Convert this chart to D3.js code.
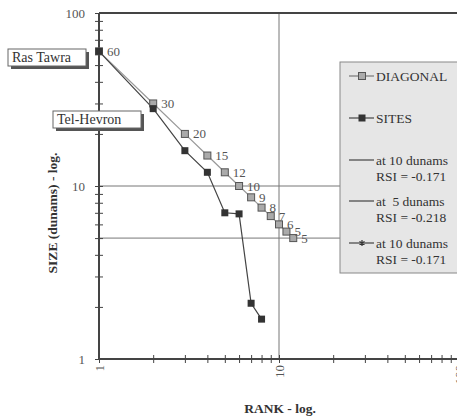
<!DOCTYPE html>
<html lang="en">

<head>
    <meta charset="UTF-8">
    <title>Rank-size</title>
    <script src="https://cdn.jsdelivr.net/npm/d3@7"></script>
</head>

<body style="margin:0">
    <style>
        svg text {
            font-family: "Liberation Serif", "DejaVu Serif", serif;
            fill: #333;
        }

        .grid-line {
            stroke: #777;
            stroke-width: 1;
        }

        .axis path {
            display: none;
        }

        .axis line {
            stroke: #444;
        }
    </style>

    <script>
        var ranks = [1, 2, 3, 4, 5, 6, 7, 8, 9, 10, 11, 12];
        var diagonal = [60, 30, 20, 15, 12, 10, 8.6, 7.5, 6.7, 6, 5.45, 5];
        var diagonalLabels = ["60", "30", "20", "15", "12", "10", "9", "8", "7", "6", "5", "5"];
        var siteRanks = [1, 2, 3, 4, 5, 6, 7, 8];
        var sites = [60, 28, 16, 12, 7, 6.9, 2.1, 1.7];
        var xTicks = [1, 2, 3, 4, 5, 6, 7, 8, 9, 10, 20, 30, 40, 50, 60, 70, 80, 90, 100];
        var yTicks = [1, 2, 3, 4, 5, 6, 7, 8, 9, 10, 20, 30, 40, 50, 60, 70, 80, 90, 100];
        var majorTicks = [1, 10, 100];
        var gridX = [10];
        var gridY = [10, 5];
        var legendItems = [
            { kind: "diag", lines: ["DIAGONAL"] },
            { kind: "sites", lines: ["SITES"] },
            { kind: "plain", lines: ["at 10 dunams", "RSI = -0.171"] },
            { kind: "plain", lines: ["at  5 dunams", "RSI = -0.218"] },
            { kind: "star", lines: ["at 10 dunams", "RSI = -0.171"] }
        ];
        var notes = [
            { text: "Ras Tawra", x: 8, y: 49, w: 78, h: 17 },
            { text: "Tel-Hevron", x: 53, y: 111, w: 88, h: 17 }
        ];

        var width = 457,
            height = 420,
            plotLeft = 99,
            plotRight = 459,
            plotTop = 13,
            plotBottom = 359,
            svg;

        svg = d3.select("body").append("svg")
            .attr("width", width)
            .attr("height", height);

        var x = d3.scaleLog().domain([1, 100]).range([plotLeft, plotRight]);
        var y = d3.scaleLog().domain([1, 100]).range([plotBottom, plotTop]);

        // grid lines
        svg.selectAll("line.gx").data(gridX).enter().append("line")
            .attr("class", "grid-line")
            .attr("x1", d => x(d)).attr("x2", d => x(d))
            .attr("y1", plotTop).attr("y2", plotBottom);
        svg.selectAll("line.gy").data(gridY).enter().append("line")
            .attr("class", "grid-line")
            .attr("x1", plotLeft).attr("x2", plotRight)
            .attr("y1", d => y(d)).attr("y2", d => y(d));

        // frame: left, bottom, top
        svg.append("line").attr("x1", plotLeft).attr("x2", plotLeft).attr("y1", plotTop).attr("y2", plotBottom)
            .attr("stroke", "#444").attr("stroke-width", 2);
        svg.append("line").attr("x1", plotLeft).attr("x2", plotRight).attr("y1", plotBottom).attr("y2", plotBottom)
            .attr("stroke", "#444").attr("stroke-width", 2);
        svg.append("line").attr("x1", plotLeft).attr("x2", plotRight).attr("y1", plotTop).attr("y2", plotTop)
            .attr("stroke", "#444").attr("stroke-width", 2);

        var fmt = d => majorTicks.indexOf(d) >= 0 ? String(d) : "";

        var xAxis = d3.axisBottom(x).tickValues(xTicks).tickFormat(fmt).tickSize(4).tickPadding(5);
        var gx = svg.append("g").attr("class", "axis")
            .attr("transform", "translate(0," + plotBottom + ")")
            .call(xAxis);
        gx.selectAll(".tick line").attr("y1", -4);
        gx.selectAll(".tick text")
            .attr("transform", "rotate(-90)")
            .attr("x", -6).attr("y", 0).attr("dy", "0.35em")
            .style("text-anchor", "end")
            .style("font-size", "13px")
            .style("font-family", "Liberation Serif")
            .style("fill", "#555");

        var yAxis = d3.axisLeft(y).tickValues(yTicks).tickFormat(fmt).tickSize(4).tickPadding(10);
        var gy = svg.append("g").attr("class", "axis")
            .attr("transform", "translate(" + plotLeft + ",0)")
            .call(yAxis);
        gy.selectAll(".tick line").attr("x1", 4).attr("x2", -4);
        gy.selectAll(".tick text")
            .style("font-size", "13px")
            .style("font-family", "Liberation Serif")
            .style("fill", "#555");

        // series lines
        var line = d3.line().x(d => x(d[0])).y(d => y(d[1]));
        svg.append("path")
            .datum(d3.zip(ranks, diagonal))
            .attr("d", line)
            .attr("fill", "none").attr("stroke", "#999").attr("stroke-width", 1.2);
        svg.append("path")
            .datum(d3.zip(siteRanks, sites))
            .attr("d", line)
            .attr("fill", "none").attr("stroke", "#444").attr("stroke-width", 1.2);

        var s = 7;
        svg.selectAll("rect.diag").data(d3.zip(ranks, diagonal)).enter().append("rect")
            .attr("x", d => x(d[0]) - s / 2).attr("y", d => y(d[1]) - s / 2)
            .attr("width", s).attr("height", s)
            .attr("fill", "#aaa").attr("stroke", "#555").attr("stroke-width", 1);
        svg.selectAll("rect.site").data(d3.zip(siteRanks, sites)).enter().append("rect")
            .attr("x", d => x(d[0]) - s / 2).attr("y", d => y(d[1]) - s / 2)
            .attr("width", s).attr("height", s)
            .attr("fill", "#333");

        svg.selectAll("text.dl").data(d3.zip(ranks, diagonal, diagonalLabels)).enter().append("text")
            .attr("x", d => x(d[0]) + 8).attr("y", d => y(d[1]))
            .attr("dy", "0.35em")
            .style("font-size", "13px")
            .style("fill", "#555")
            .text(d => d[2]);

        // annotation boxes
        var nb = svg.selectAll("g.note").data(notes).enter().append("g");
        nb.append("rect")
            .attr("x", d => d.x + 3).attr("y", d => d.y + 3)
            .attr("width", d => d.w).attr("height", d => d.h)
            .attr("fill", "#555");
        nb.append("rect")
            .attr("x", d => d.x).attr("y", d => d.y)
            .attr("width", d => d.w).attr("height", d => d.h)
            .attr("fill", "#fff").attr("stroke", "#666");
        nb.append("text")
            .attr("x", d => d.x + 4).attr("y", d => d.y + d.h / 2)
            .attr("dy", "0.35em")
            .style("font-size", "14px")
            .text(d => d.text);

        // legend
        var lg = svg.append("g").attr("transform", "translate(340,62)");
        lg.append("rect").attr("x", 0).attr("y", 0).attr("width", 130).attr("height", 211)
            .attr("fill", "#e6e6e6").attr("stroke", "#888");
        var rowY = [14, 56, 98, 139, 181];
        legendItems.forEach(function (it, i) {
            var g = lg.append("g").attr("transform", "translate(0," + rowY[i] + ")");
            g.append("line").attr("x1", 9).attr("x2", 34).attr("y1", 0).attr("y2", 0)
                .attr("stroke", it.kind == "diag" ? "#777" : "#444").attr("stroke-width", 1.2);
            if (it.kind == "diag" || it.kind == "sites") {
                g.append("rect").attr("x", 22 - s / 2).attr("y", -s / 2)
                    .attr("width", s).attr("height", s)
                    .attr("fill", it.kind == "diag" ? "#aaa" : "#333")
                    .attr("stroke", it.kind == "diag" ? "#555" : "none");
            }
            if (it.kind == "star") {
                g.append("path").attr("transform", "translate(22,0)")
                    .attr("d", d3.symbol(d3.symbolAsterisk, 24)())
                    .attr("fill", "none").attr("stroke", "#333").attr("stroke-width", 1.2);
            }
            it.lines.forEach(function (t, j) {
                g.append("text").attr("x", 36).attr("y", j * 16).attr("dy", "0.35em")
                    .style("font-size", "13.5px")
                    .style("white-space", "pre")
                    .text(t);
            });
        });

        // axis titles
        svg.append("text")
            .attr("transform", "translate(52,213) rotate(-90)")
            .attr("text-anchor", "middle").attr("dy", "0.35em")
            .style("font-size", "13.5px").style("font-weight", "bold")
            .text("SIZE (dunams) - log.");
        svg.append("text")
            .attr("x", 280).attr("y", 408)
            .attr("text-anchor", "middle").attr("dy", "0.35em")
            .style("font-size", "13.5px").style("font-weight", "bold")
            .text("RANK - log.");
    </script>
</body>

</html>
